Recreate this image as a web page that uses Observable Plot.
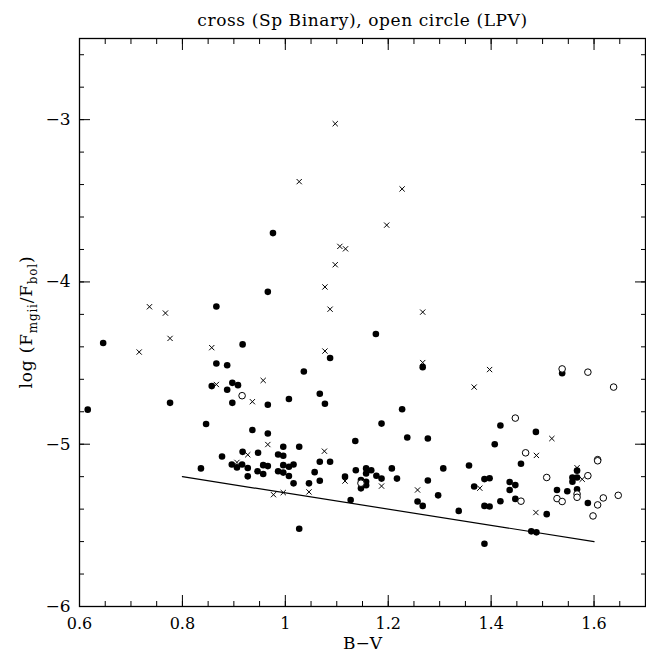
<!DOCTYPE html>
<html><head><meta charset="utf-8">
<script src="https://cdn.jsdelivr.net/npm/d3@7"></script>
<script src="https://cdn.jsdelivr.net/npm/@observablehq/plot@0.6"></script>
<style>body{margin:0;background:#fff}</style>
</head><body><div id="chart"></div>
<script>
const titleText = "cross (Sp Binary), open circle (LPV)";
const xLabel = "B\u2212V";

const filledX = [0.866,0.646,0.917,0.866,0.887,0.857,0.887,0.897,0.908,0.897,0.776,0.966,0.616,0.846,0.936,0.966,0.877,0.917,0.947,0.966,0.976,1.087,1.036,1.067,1.077,1.007,1.176,1.267,1.538,1.227,1.187,1.418,1.487,1.237,1.277,1.136,0.996,1.027,0.986,0.996,0.836,0.896,0.906,0.916,0.927,0.927,0.946,0.957,0.957,0.966,0.986,0.996,0.996,1.007,1.016,1.007,1.016,1.046,1.057,1.067,1.087,1.067,1.027,1.116,1.127,1.137,1.157,1.167,1.157,1.147,1.157,1.147,1.157,1.177,1.187,1.207,1.217,1.277,1.257,1.267,1.297,1.307,1.337,1.357,1.367,1.387,1.397,1.387,1.397,1.387,1.407,1.418,1.436,1.436,1.447,1.447,1.458,1.528,1.548,1.508,1.478,1.488,1.567,1.558,1.567,1.558,1.567,1.588];
const filledY = [-4.151,-4.376,-4.385,-4.503,-4.513,-4.642,-4.664,-4.622,-4.636,-4.745,-4.745,-4.757,-4.787,-4.875,-4.912,-4.934,-5.076,-5.047,-5.053,-4.061,-3.699,-4.469,-4.552,-4.689,-4.751,-4.721,-4.321,-4.525,-4.562,-4.785,-4.873,-4.885,-4.924,-4.959,-4.965,-4.980,-5.016,-5.016,-5.063,-5.071,-5.149,-5.125,-5.143,-5.125,-5.147,-5.198,-5.167,-5.129,-5.184,-5.135,-5.167,-5.129,-5.175,-5.139,-5.125,-5.196,-5.241,-5.241,-5.172,-5.108,-5.108,-5.225,-5.521,-5.200,-5.344,-5.160,-5.149,-5.160,-5.180,-5.221,-5.231,-5.272,-5.253,-5.194,-5.212,-5.149,-5.212,-5.224,-5.353,-5.380,-5.315,-5.149,-5.411,-5.131,-5.261,-5.215,-5.210,-5.380,-5.384,-5.613,-5.000,-5.351,-5.233,-5.282,-5.337,-5.252,-5.120,-5.282,-5.290,-5.431,-5.537,-5.543,-5.163,-5.205,-5.205,-5.231,-5.278,-5.362];

const crossX = [0.736,0.767,0.776,0.716,0.857,0.957,0.866,0.936,0.966,0.927,1.077,1.087,1.077,1.097,1.027,1.227,1.197,1.106,1.117,1.097,1.267,1.267,1.397,1.367,1.518,1.076,0.906,0.977,0.996,1.046,1.116,1.187,1.257,1.378,1.488,1.487,1.567,1.577];
const crossY = [-4.153,-4.192,-4.348,-4.432,-4.405,-4.607,-4.632,-4.738,-5.002,-5.065,-4.031,-4.168,-4.426,-3.025,-3.382,-3.427,-3.650,-3.781,-3.796,-3.894,-4.186,-4.497,-4.540,-4.648,-4.965,-5.043,-5.112,-5.311,-5.298,-5.294,-5.227,-5.258,-5.282,-5.271,-5.069,-5.421,-5.145,-5.216];

const openX = [0.916,1.538,1.588,1.638,1.447,1.467,1.607,1.607,1.458,1.508,1.528,1.538,1.588,1.567,1.567,1.618,1.607,1.647,1.598,1.147];
const openY = [-4.701,-4.536,-4.556,-4.648,-4.839,-5.053,-5.095,-5.102,-5.351,-5.205,-5.335,-5.353,-5.194,-5.307,-5.327,-5.331,-5.374,-5.315,-5.442,-5.240];

const lineX = [0.8, 1.6];
const lineY = [-5.2, -5.6];

const xMajorTicks = [0.6, 0.8, 1, 1.2, 1.4, 1.6];
const xMinorTicks = [0.6,0.65,0.7,0.75,0.8,0.85,0.9,0.95,1,1.05,1.1,1.15,1.2,1.25,1.3,1.35,1.4,1.45,1.5,1.55,1.6,1.65,1.7];
const yMajorTicks = [-6, -5, -4, -3];
const yMinorTicks = [-6,-5.8,-5.6,-5.4,-5.2,-5,-4.8,-4.6,-4.4,-4.2,-4,-3.8,-3.6,-3.4,-3.2,-3,-2.8,-2.6];

const filled = filledX.map((x, i) => ({x, y: filledY[i]}));
const crosses = crossX.map((x, i) => ({x, y: crossY[i]}));
const opens = openX.map((x, i) => ({x, y: openY[i]}));
const line = lineX.map((x, i) => ({x, y: lineY[i]}));

const fmt = d => String(d).replace("-", "\u2212");
const blank = () => "";

const chart = Plot.plot({
  width: 646, height: 659,
  marginLeft: 79, marginRight: 1, marginTop: 38, marginBottom: 53,
  style: {fontFamily: "DejaVu Serif", fontSize: "16px", color: "black", background: "white"},
  x: {domain: [0.6, 1.7]},
  y: {domain: [-6, -2.5]},
  marks: [
    Plot.axisX(xMajorTicks, {anchor: "bottom", tickSize: -11, tickPadding: 22, tickFormat: fmt, label: null, fontSize: 16}),
    Plot.axisX(xMinorTicks, {anchor: "bottom", tickSize: -5, tickFormat: blank, label: null}),
    Plot.axisX(xMajorTicks, {anchor: "top", tickSize: -11, tickFormat: blank, label: null}),
    Plot.axisX(xMinorTicks, {anchor: "top", tickSize: -5, tickFormat: blank, label: null}),
    Plot.axisY(yMajorTicks, {anchor: "left", tickSize: -11, tickPadding: 20, tickFormat: fmt, label: null, fontSize: 17}),
    Plot.axisY(yMinorTicks, {anchor: "left", tickSize: -5, tickFormat: blank, label: null}),
    Plot.axisY(yMajorTicks, {anchor: "right", tickSize: -11, tickFormat: blank, label: null}),
    Plot.axisY(yMinorTicks, {anchor: "right", tickSize: -5, tickFormat: blank, label: null}),
    Plot.frame({stroke: "black", strokeWidth: 1.3}),
    Plot.line(line, {x: "x", y: "y", stroke: "black", strokeWidth: 1.2}),
    Plot.dot(filled, {x: "x", y: "y", r: 3.3, fill: "black", stroke: "none"}),
    Plot.dot(opens, {x: "x", y: "y", r: 3.3, fill: "white", stroke: "black", strokeWidth: 1}),
    Plot.dot(crosses, {x: "x", y: "y", symbol: "times", r: 2.5, stroke: "black", strokeWidth: 1}),
    Plot.text([titleText], {frameAnchor: "top", dy: -25, fontSize: 17, fill: "black"}),
    Plot.text([xLabel], {frameAnchor: "bottom", dy: 42, fontSize: 17, fill: "black"})
  ]
});
document.getElementById("chart").appendChild(chart);

// title letter spacing
d3.select(chart).selectAll("text").filter(function() { return this.textContent === titleText; })
  .attr("letter-spacing", "0.6px");

// y-axis label with subscripts
const svg = d3.select(chart);
const t = svg.append("text")
  .attr("transform", "translate(32,322) rotate(-90)")
  .attr("text-anchor", "middle")
  .attr("font-family", "DejaVu Serif")
  .attr("font-size", 17)
  .attr("letter-spacing", "0.8px")
  .attr("fill", "black");
t.append("tspan").text("log (F");
t.append("tspan").attr("font-size", 12).attr("dy", 5).text("mgii");
t.append("tspan").attr("dy", -5).text("/F");
t.append("tspan").attr("font-size", 12).attr("dy", 5).text("bol");
t.append("tspan").attr("dy", -5).text(")");
</script>
</body></html>
